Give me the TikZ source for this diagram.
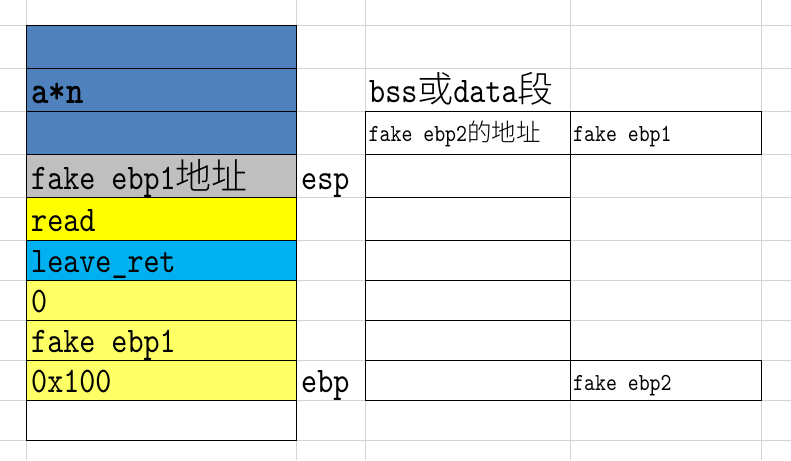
\documentclass[tikz,border=0pt]{standalone}
\usepackage{fontspec}
\newfontfamily\stackmono[Extension=.otf, UprightFont=*-regular, BoldFont=lmmonolt10-bold, FakeStretch=0.85]{lmmono10}
\newfontfamily\cjk{Noto Sans CJK SC Light}
\newcommand\zh[1]{{\cjk #1}}
\newcommand\stackfont{\stackmono\fontsize{36}{40}\selectfont}
\newcommand\tablefont{\stackmono\fontsize{24.5}{28}\selectfont}
\definecolor{gridgray}{HTML}{D4D4D4}
\definecolor{exblue}{HTML}{4F81BD}
\definecolor{exgray}{HTML}{BFBFBF}
\definecolor{exyellow}{HTML}{FFFF00}
\definecolor{excyan}{HTML}{00B0F0}
\definecolor{exlight}{HTML}{FFFF66}
\begin{document}
\begin{tikzpicture}[x=1pt,y=-1pt,
  gridline/.style={draw=gridgray, line width=1pt},
  cellbox/.style={draw=black, line width=1pt},
  bigtext/.style={anchor=base west, inner sep=0pt, font=\stackfont},
  smalltext/.style={anchor=base west, inner sep=0pt, font=\tablefont},
]
\useasboundingbox (0,0) rectangle (791,460);
\fill[white] (0,0) rectangle (791,460);
% spreadsheet grid
\foreach \y in {25.3,68.5,111.5,154.5,197.5,240,280.3,320.3,360.3,400,440.3}
  \draw[gridline] (0,\y) -- (791,\y);
\foreach \x in {26.7,296.5,365.7,570.7,761.7}
  \draw[gridline] (\x,0) -- (\x,460);
% stack column
\foreach \a/\b/\c in {25.3/68.5/exblue,68.5/111.5/exblue,111.5/154.5/exblue,
  154.5/197.5/exgray,197.5/240/exyellow,240/280.3/excyan,280.3/320.3/exlight,
  320.3/360.3/exlight,360.3/400/exlight,400/440.3/white}
  \filldraw[cellbox, fill=\c] (26.7,\a) rectangle (296.5,\b);
% bss/data table
\foreach \a/\b in {111.5/154.5,154.5/197.5,197.5/240,240/280.3,280.3/320.3,320.3/360.3,360.3/400}
  \filldraw[cellbox, fill=white] (365.7,\a) rectangle (570.7,\b);
\filldraw[cellbox, fill=white] (570.7,111.5) rectangle (761.7,154.5);
\filldraw[cellbox, fill=white] (570.7,360.3) rectangle (761.7,400);
% texts
\node[bigtext] (an) at (31,103.3) {\fontsize{39}{42}\selectfont\bfseries a*n};
\node[bigtext] (addr) at (31,189.3) {fake ebp1\zh{地址}};
\node[bigtext] (rd) at (31,231.7) {read};
\node[bigtext] (lr) at (31,272) {leave\_ret};
\node[bigtext] (zero) at (31,312) {0};
\node[bigtext] (fe1) at (31,352.5) {fake ebp1};
\node[bigtext] (hx) at (31,392.3) {0x100};
\node[bigtext] (esp) at (301,189) {esp};
\node[bigtext] (ebp) at (301,392) {ebp};
\node[bigtext] (bss) at (369,102.7) {bss\zh{或}data\zh{段}};
\node[smalltext] (fe2a) at (368.5,141.7) {fake ebp2\zh{的地址}};
\node[smalltext] (fe1b) at (573,141.7) {fake ebp1};
\node[smalltext] (fe2b) at (573,390) {fake ebp2};
\end{tikzpicture}
\end{document}
